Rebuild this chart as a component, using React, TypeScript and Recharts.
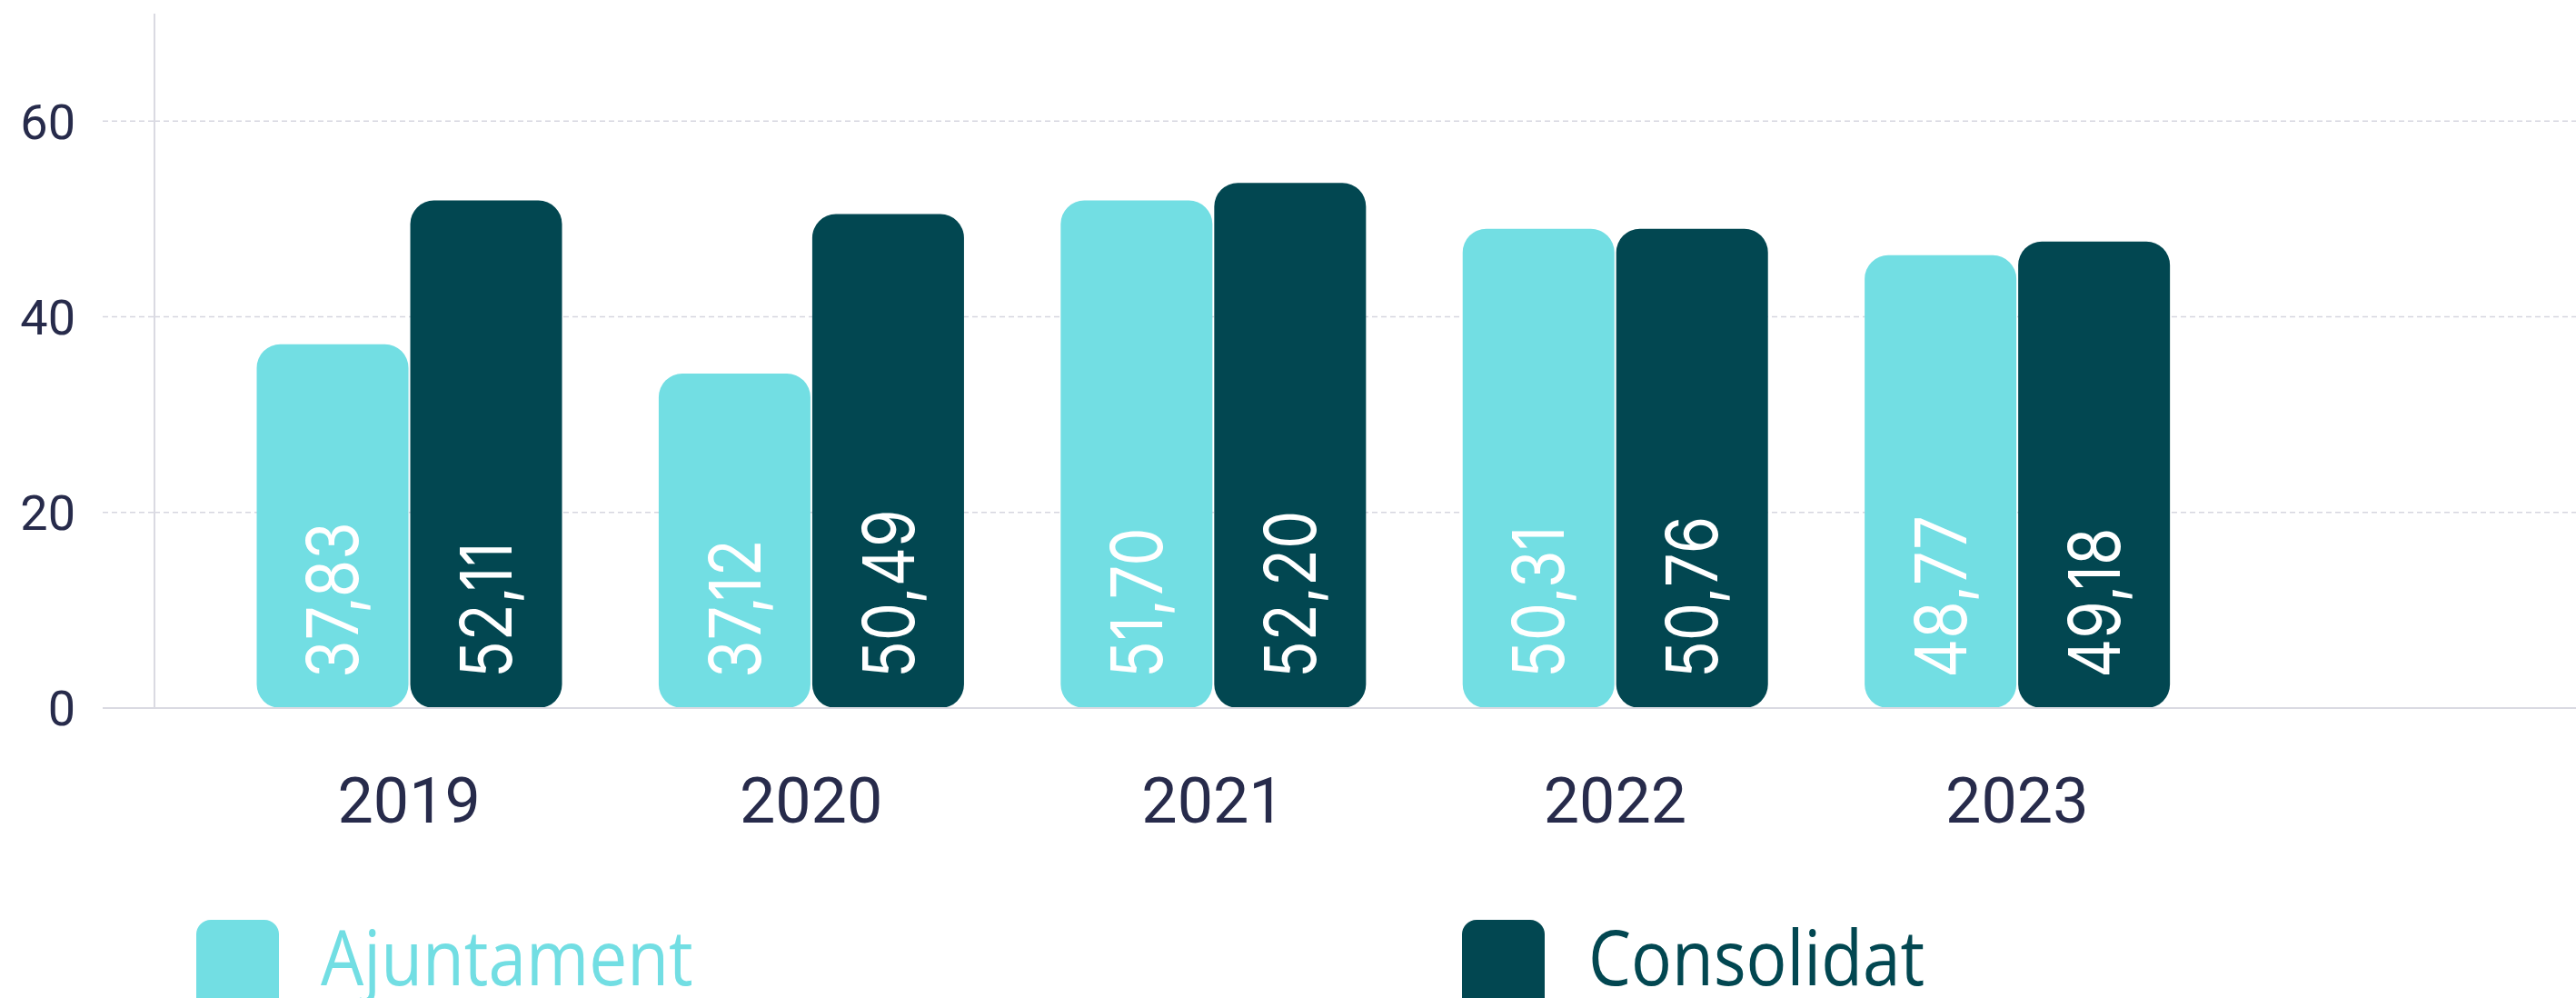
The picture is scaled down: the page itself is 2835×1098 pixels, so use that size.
import React from 'react';
import { BarChart, Bar, XAxis, YAxis, CartesianGrid, LabelList } from 'recharts';

// ---- data ----
const years = ['2019', '2020', '2021', '2022', '2023'];
const ajuntament = [37.2, 34.2, 51.9, 49.0, 46.3];
const consolidat = [51.9, 50.5, 53.7, 49.0, 47.7];
const ajuntamentLabels = ['37,83', '37,12', '51,70', '50,31', '48,77'];
const consolidatLabels = ['52,11', '50,49', '52,20', '50,76', '49,18'];
const yTicks = [0, 20, 40, 60];
const yMax = 71;
const seriesNames = ['Ajuntament', 'Consolidat'];
const seriesColors = ['#72DEE3', '#024751'];

const data = years.map((year, i) => ({
  year,
  aj: ajuntament[i],
  co: consolidat[i],
  ajLabel: ajuntamentLabels[i],
  coLabel: consolidatLabels[i],
}));

const W = 2835;
const H = 1098;
const TEXT = '#272B4B';
const GRID = '#D6D6DF';

const ValueLabel = (props: any) => {
  const { x, y, width, height, value } = props;
  const fs = 78;
  const cx = Number(x) + Number(width) / 2 + fs * 0.36;
  const by = Number(y) + Number(height) - 33;
  return (
    <text
      x={0}
      y={0}
      transform={`translate(${cx},${by}) rotate(-90) scale(0.86,1)`}
      fill="#FFFFFF"
      fontSize={fs}
      fontFamily="Inter, Roboto, sans-serif"
      fontWeight={400}
      textAnchor="start"
    >
      {value}
    </text>
  );
};

const YTick = (props: any) => {
  const { x, y, payload } = props;
  const isZero = payload.value === 0;
  return (
    <g>
      <line
        x1={x + 30}
        x2={x + 87}
        y1={y}
        y2={y}
        stroke={isZero ? '#DADAE2' : GRID}
        strokeWidth={isZero ? 2 : 1.5}
        strokeDasharray={isZero ? undefined : '6 4'}
      />
      <text
        x={x}
        y={y}
        dy="0.355em"
        textAnchor="end"
        fill={TEXT}
        fontSize={54}
        fontFamily="Roboto, sans-serif"
      >
        {payload.value}
      </text>
    </g>
  );
};

const XTick = (props: any) => {
  const { x, y, payload } = props;
  return (
    <text
      x={x}
      y={y}
      dy="0.71em"
      textAnchor="middle"
      fill={TEXT}
      fontSize={70}
      fontFamily="Roboto, sans-serif"
    >
      {payload.value}
    </text>
  );
};

const LegendOverlay = () => {
  const swatchX = [216, 1609];
  const textX = [353, 1748];
  return (
    <svg
      width={W}
      height={H}
      style={{ position: 'absolute', left: 0, top: 0, pointerEvents: 'none' }}
    >
      {seriesNames.map((name, i) => (
        <g key={name}>
          <rect x={swatchX[i]} y={1012} width={91} height={110} rx={16} ry={16} fill={seriesColors[i]} />
          <text
            x={0}
            y={0}
            transform={`translate(${textX[i]},1084) scale(0.89,1)`}
            fill={seriesColors[i]}
            fontSize={84}
            fontFamily="'Open Sans', 'Noto Sans', sans-serif"
          >
            {name}
          </text>
        </g>
      ))}
    </svg>
  );
};

const gridY = (props: any) => {
  const axis = props && props.yAxis;
  const s = axis && axis.scale;
  try {
    if (typeof s === 'function') return yTicks.map((t) => s(t));
    if (s && typeof s.map === 'function') return yTicks.map((t) => s.map(t));
  } catch (e) {
    // fall through
  }
  const off = (props && props.offset) || {};
  const top = off.top ?? 15;
  const h = off.height ?? 764;
  return yTicks.map((t) => top + h * (1 - t / yMax));
};

export default function App() {
  return (
    <div style={{ position: 'fixed', left: 0, top: 0, width: W, height: H, background: '#fff', overflow: 'hidden' }}>
      <BarChart
        width={W}
        height={H}
        data={data}
        margin={{ top: 15, right: 0, bottom: 119, left: 0 }}
        barCategoryGap="12.1%"
        barGap={2}
      >
        <CartesianGrid
          vertical={false}
          stroke={GRID}
          strokeWidth={1.5}
          strokeDasharray="6 4"
          horizontalCoordinatesGenerator={gridY}
        />
        <XAxis
          dataKey="year"
          padding={{ left: 59, right: 394 }}
          height={200}
          tickLine={false}
          tickSize={0}
          tickMargin={76}
          axisLine={{ stroke: '#DADAE2', strokeWidth: 2 }}
          tick={<XTick />}
          interval={0}
        />
        <YAxis
          width={170}
          domain={[0, yMax]}
          ticks={yTicks}
          tickLine={false}
          tickSize={57}
          tickMargin={30}
          axisLine={{ stroke: '#DADAE2', strokeWidth: 2 }}
          tick={<YTick />}
          allowDataOverflow
        />
        <Bar dataKey="aj" name={seriesNames[0]} fill={seriesColors[0]} radius={[26, 26, 26, 26]} isAnimationActive={false}>
          <LabelList dataKey="ajLabel" content={<ValueLabel />} />
        </Bar>
        <Bar dataKey="co" name={seriesNames[1]} fill={seriesColors[1]} radius={[26, 26, 26, 26]} isAnimationActive={false}>
          <LabelList dataKey="coLabel" content={<ValueLabel />} />
        </Bar>
      </BarChart>
      <LegendOverlay />
    </div>
  );
}
